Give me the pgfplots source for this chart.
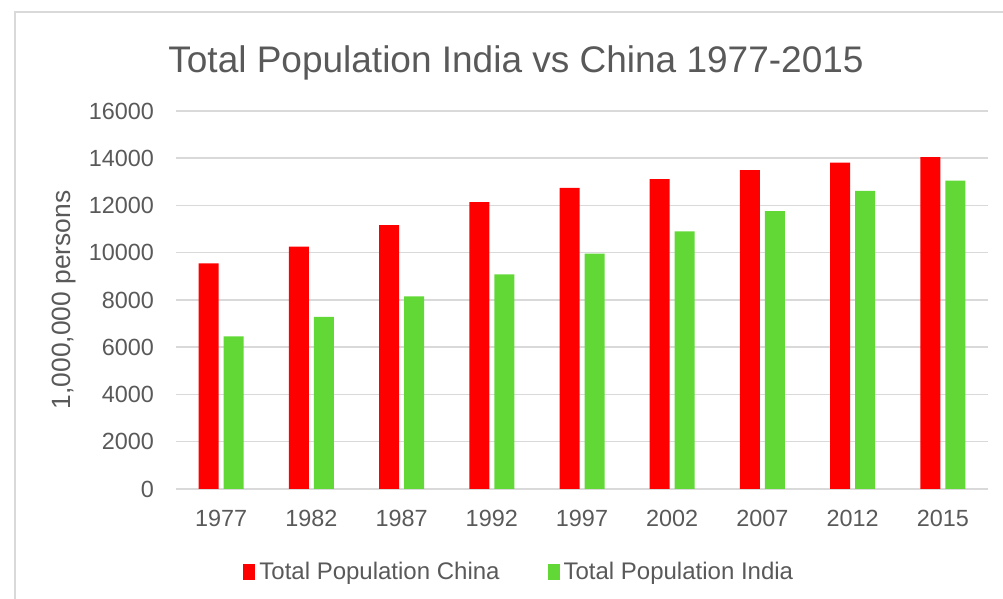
\documentclass[border=0pt]{standalone}
\usepackage{fontspec}
\setmainfont{Liberation Sans}
\usepackage{pgfplots}
\pgfplotsset{compat=1.18}
\usepackage{xcolor}
\definecolor{chinared}{HTML}{FF0000}
\definecolor{indiagreen}{HTML}{61D836}
\definecolor{txtgray}{HTML}{595959}
\definecolor{gridgray}{HTML}{D9D9D9}

\begin{document}
\begin{tikzpicture}
  % page = 1003x599 px at 0.5pt per px
  \path[use as bounding box] (0,0) rectangle (501.5pt,299.5pt);
  \draw[gridgray, line width=1pt] (7.5pt,0) -- (7.5pt,293.5pt) -- (501.5pt,293.5pt);
  \begin{axis}[
      at={(88pt,55pt)}, anchor=south west,
      scale only axis,
      width=406pt, height=189pt,
      ybar=2.5pt,
      bar width=10pt,
      xmin=-0.5, xmax=8.5,
      ymin=0, ymax=16000,
      xtick={0,...,8},
      xticklabels={1977,1982,1987,1992,1997,2002,2007,2012,2015},
      ytick={0,2000,...,16000},
      scaled y ticks=false,
      /pgf/number format/1000 sep={},
      /pgf/number format/assume math mode=true,
      axis line style={draw=none},
      major tick length=0pt,
      ymajorgrids,
      grid style={gridgray, line width=0.75pt},
      tick label style={font=\fontsize{11.7}{14}\selectfont, text=txtgray},
      yticklabel style={xshift=-7.5pt},
      xticklabel style={yshift=-7pt},
      ylabel={1,000,000 persons},
      ylabel shift=-0.5pt,
      ylabel style={font=\fontsize{13.2}{15}\selectfont, text=txtgray},
      title={Total Population India vs China 1977-2015},
      title style={font=\fontsize{18.5}{22}\selectfont, text=txtgray, yshift=6pt, xshift=-33pt},
      legend style={draw=none, fill=none, at={(0.424,-0.22)}, anchor=center,
        font=\fontsize{12}{14}\selectfont, text=txtgray,
        /tikz/every even column/.append style={column sep=22pt}},
      legend columns=2,
      legend image code/.code={\fill[#1] (0pt,-4pt) rectangle (6pt,4pt);},
    ]
    \addplot[fill=chinared, draw=none] coordinates {
      (0,9550) (1,10255) (2,11172) (3,12144) (4,12750)
      (5,13117) (6,13497) (7,13818) (8,14046)
    };
    \addplot[fill=indiagreen, draw=none] coordinates {
      (0,6465) (1,7285) (2,8155) (3,9080) (4,9960)
      (5,10902) (6,11764) (7,12622) (8,13057)
    };
    \legend{Total Population China, Total Population India}
  \end{axis}
\end{tikzpicture}
\end{document}
